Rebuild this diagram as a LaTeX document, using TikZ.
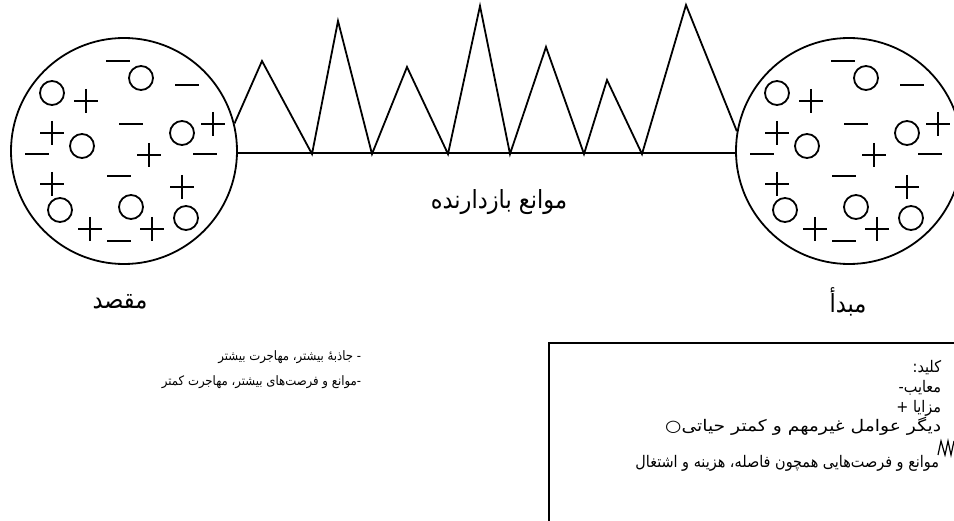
\documentclass[tikz,border=0pt]{standalone}
\usepackage{fontspec}
\newfontfamily\arabicfont[Script=Arabic,FakeStretch=0.9]{DejaVu Sans}
\TeXXeTstate=1
\begin{document}
\begin{tikzpicture}[x=1pt,y=-1pt,line width=1.8pt,
  bigc/.style={draw,circle,minimum size=226pt,inner sep=0pt},
  biglbl/.style={font=\arabicfont\fontsize{25}{27}\selectfont,inner sep=0pt},
  smalllbl/.style={font=\arabicfont\fontsize{13}{15}\selectfont,inner sep=0pt,anchor=east},
  keylbl/.style={font=\arabicfont\fontsize{16}{18}\selectfont,inner sep=0pt,anchor=east},
  sym/.style={line width=1.8pt}]
\path[use as bounding box] (0,0) rectangle (954,521);
\clip (0,0) rectangle (954,521);
% the two circles
\node[bigc] (lc) at (124,151) {};
\node[bigc] (rc) at (849,151) {};
% symbols inside both circles
\foreach \dx in {0,725}{
  \foreach \x/\y in {118/61,187/85,131/124,37/154,205/154,119/176,119/241}
    \draw[sym] (\x+\dx-12,\y) -- (\x+\dx+12,\y);
  \foreach \x/\y in {86/101,52/133,213/124,149/155,52/184,182/187,90/229,152/229}
    \draw[sym] (\x+\dx-12,\y) -- (\x+\dx+12,\y) (\x+\dx,\y-12) -- (\x+\dx,\y+12);
  \foreach \x/\y in {141/78,52/93,82/146,182/133,60/210,131/207,186/218}
    \draw[sym] (\x+\dx,\y) circle (12);
}
% baseline and spikes
\draw (lc.-1.5) -- (rc.181.5);
\draw (lc.14) -- (262,61) -- (312,154) -- (338,21) -- (372,154) -- (407,67)
  -- (448,154) -- (480,6) -- (510,154) -- (546,47) -- (584,154) -- (607,80)
  -- (642,154) -- (686,5) -- (rc.170);
% labels
\node[biglbl] (mid) at (499,202) {\beginR موانع بازدارنده\endR};
\node[biglbl] (dest) at (120,302) {\beginR مقصد\endR};
\node[biglbl] (orig) at (848,302) {\beginR مبدأ\endR};
\node[smalllbl] (t1) at (362,357) {\beginR - جاذبهٔ بیشتر، مهاجرت بیشتر\endR};
\node[smalllbl] (t2) at (362,382) {\beginR -موانع و فرصت‌های بیشتر، مهاجرت کمتر\endR};
% key box
\draw (960,343) -- (549,343) -- (549,530);
\node[keylbl] (k1) at (942,368) {\beginR کلید:\endR};
\node[keylbl] (k2) at (942,388) {\beginR معایب-\endR};
\node[keylbl] (k3) at (942,408) {\beginR مزایا +\endR};
\node[keylbl] (k4) at (942,426) {\scalebox{1.3}[1]{\beginR دیگر عوامل غیرمهم و کمتر حیاتی○\endR}};
\draw[line width=1.2pt] (938,455) -- (941,441) -- (945,455) -- (948,441) -- (951,455) -- (954,441);
\node[keylbl] (k5) at (940,463) {\beginR موانع و فرصت‌هایی همچون فاصله، هزینه و اشتغال\endR};
\end{tikzpicture}
\end{document}
